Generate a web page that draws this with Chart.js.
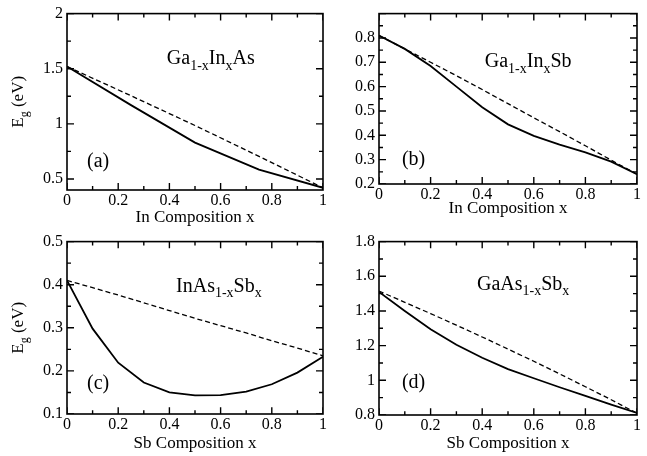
<!DOCTYPE html>
<html>
<head>
<meta charset="utf-8">
<script src="https://cdn.jsdelivr.net/npm/chart.js@4.4.1/dist/chart.umd.min.js"></script>
<style>
  html, body { margin: 0; padding: 0; background: #fff; }
  #wrap { position: relative; width: 647px; height: 456px; }
  canvas { position: absolute; }
</style>
</head>
<body>
<div id="wrap">
  <canvas id="panelA" width="330" height="228" style="left:0;top:0"></canvas>
  <canvas id="panelB" width="317" height="228" style="left:330px;top:0"></canvas>
  <canvas id="panelC" width="330" height="228" style="left:0;top:228px"></canvas>
  <canvas id="panelD" width="317" height="228" style="left:330px;top:228px"></canvas>
</div>
<script>
// ==========================================
// DATA
// ==========================================

const xQuarter = [0, 0.25, 0.5, 0.75, 1];
const xTenth = [0, 0.1, 0.2, 0.3, 0.4, 0.5, 0.6, 0.7, 0.8, 0.9, 1];

// (a) Ga1-xInxAs
const gaInAsCalc = [1.52, 1.17, 0.83, 0.585, 0.42];
const gaInAsLinear = [1.52, 1.255, 0.985, 0.705, 0.42];

// (b) Ga1-xInxSb
const gaInSbCalc = [0.81, 0.755, 0.685, 0.6, 0.515, 0.445, 0.398, 0.362, 0.33, 0.292, 0.24];
const gaInSbLinear = [0.81, 0.755, 0.7, 0.645, 0.588, 0.53, 0.472, 0.415, 0.357, 0.298, 0.24];

// (c) InAs1-xSbx
const inAsSbCalc = [0.41, 0.298, 0.219, 0.173, 0.15, 0.143, 0.144, 0.152, 0.169, 0.196, 0.233];
const inAsSbLinear = [0.41, 0.393, 0.376, 0.358, 0.34, 0.322, 0.305, 0.288, 0.27, 0.253, 0.235];

// (d) GaAs1-xSbx
const gaAsSbCalc = [1.51, 1.4, 1.295, 1.205, 1.13, 1.065, 1.012, 0.96, 0.91, 0.86, 0.812];
const gaAsSbLinear = [1.515, 1.45, 1.385, 1.318, 1.25, 1.18, 1.11, 1.037, 0.963, 0.888, 0.81];

// tick labels
const xTicks = [0, 0.2, 0.4, 0.6, 0.8, 1];
const yTicksA = [0.5, 1, 1.5, 2];
const yTicksB = [0.2, 0.3, 0.4, 0.5, 0.6, 0.7, 0.8];
const yTicksC = [0.1, 0.2, 0.3, 0.4, 0.5];
const yTicksD = [0.8, 1, 1.2, 1.4, 1.6, 1.8];

const SERIF = "'Liberation Serif', 'Times New Roman', serif";
const MAJOR_PX = 7;
const MINOR_PX = 4;

// ==========================================
// HELPERS
// ==========================================

function drawRich(ctx, parts, x, y, size) {
  let cx = x;
  parts.forEach(([txt, sub]) => {
    const fs = sub ? Math.round(size * 0.7) : size;
    ctx.font = fs + "px " + SERIF;
    ctx.fillText(txt, cx, sub ? y + size * 0.28 : y);
    cx += ctx.measureText(txt).width;
  });
}

function richWidth(ctx, parts, size) {
  let w = 0;
  parts.forEach(([txt, sub]) => {
    const fs = sub ? Math.round(size * 0.7) : size;
    ctx.font = fs + "px " + SERIF;
    w += ctx.measureText(txt).width;
  });
  return w;
}

function tickValues(min, max, step) {
  const out = [];
  const start = Math.ceil(min / step - 1e-6);
  const end = Math.floor(max / step + 1e-6);
  for (let i = start; i <= end; i++) out.push(i * step);
  return out;
}

function isMajor(v, step) {
  const r = v / step;
  return Math.abs(r - Math.round(r)) < 1e-6;
}

// inward tick marks as short segments, broken by gaps
// plotW / plotH: plot size in px, used to turn tick length into axis units
function tickSegments(d, yMin, yMax, plotW, plotH) {
  const pts = [];
  const ySpan = yMax - yMin;
  tickValues(0, 1, d.xMinor).forEach((v) => {
    const len = ((isMajor(v, d.xMajor) ? MAJOR_PX : MINOR_PX) / plotH) * ySpan;
    pts.push({ x: v, y: yMin }, { x: v, y: yMin + len }, { x: v, y: null });
    pts.push({ x: v, y: yMax }, { x: v, y: yMax - len }, { x: v, y: null });
  });
  tickValues(yMin, yMax, d.yMinor).forEach((v) => {
    const len = (isMajor(v, d.yMajor) ? MAJOR_PX : MINOR_PX) / plotW;
    pts.push({ x: 0, y: v }, { x: len, y: v }, { x: 0, y: null });
    pts.push({ x: 1, y: v }, { x: 1 - len, y: v }, { x: 1, y: null });
  });
  return pts;
}

// frame + annotations
function makeFramePlugin(d) {
  return {
    id: "frameText",
    afterDraw(chart) {
      const { ctx, chartArea: a, scales } = chart;
      const x = scales.x, y = scales.y;
      ctx.save();
      ctx.fillStyle = "#000";
      ctx.strokeStyle = "#000";
      ctx.lineWidth = 1.6;
      ctx.strokeRect(a.left, a.top, a.right - a.left, a.bottom - a.top);

      ctx.textBaseline = "alphabetic";
      ctx.textAlign = "left";
      drawRich(ctx, d.name, x.getPixelForValue(d.namePos[0]), y.getPixelForValue(d.namePos[1]), 20);

      ctx.font = "20px " + SERIF;
      ctx.fillText(d.tag, x.getPixelForValue(d.tagPos[0]), y.getPixelForValue(d.tagPos[1]));

      if (d.yTitleX) {
        const parts = [["E", false], ["g", true], [" (eV)", false]];
        const tw = richWidth(ctx, parts, 17);
        ctx.translate(d.yTitleX, (a.top + a.bottom) / 2);
        ctx.rotate(-Math.PI / 2);
        drawRich(ctx, parts, -tw / 2, 6, 17);
      }
      ctx.restore();
    },
  };
}

// ==========================================
// CHART FUNCTIONS
// ==========================================

function toPoints(xs, ys) {
  return xs.map((x, i) => ({ x: x, y: ys[i] }));
}

function makePanel(id, canvasW, canvasH, p) {
  const font = { family: SERIF, size: 16 };
  const plotW = canvasW - p.yWidth - p.padRight;
  const plotH = canvasH - p.padTop - p.xHeight;

  new Chart(document.getElementById(id).getContext("2d"), {
    type: "scatter",
    data: {
      datasets: [
        {
          data: toPoints(p.xs, p.calc),
          showLine: true,
          borderColor: "#000",
          borderWidth: 1.8,
          pointRadius: 0,
        },
        {
          data: toPoints(p.xs, p.linear),
          showLine: true,
          borderColor: "#000",
          borderWidth: 1.3,
          borderDash: [5, 3],
          pointRadius: 0,
        },
        {
          // axis tick marks
          data: tickSegments(p.deco, p.yMin, p.yMax, plotW, plotH),
          showLine: true,
          spanGaps: false,
          borderColor: "#000",
          borderWidth: 1.4,
          pointRadius: 0,
        },
      ],
    },
    options: {
      responsive: false,
      animation: false,
      events: [],
      layout: { padding: { top: p.padTop, right: p.padRight, left: 0, bottom: 0 } },
      plugins: {
        legend: { display: false },
        tooltip: { enabled: false },
      },
      scales: {
        x: {
          type: "linear",
          min: 0,
          max: 1,
          grid: { display: false, drawTicks: false },
          border: { display: false },
          afterBuildTicks: (s) => { s.ticks = xTicks.map((v) => ({ value: v })); },
          afterFit: (s) => { s.height = p.xHeight; },
          ticks: {
            font: font, color: "#000", padding: 1, maxRotation: 0, autoSkip: false,
            callback: (v) => String(v),
          },
          title: {
            display: true,
            text: p.xTitle,
            font: { family: SERIF, size: 17 },
            color: "#000",
            padding: { top: 0, bottom: p.titlePad },
          },
        },
        y: {
          type: "linear",
          min: p.yMin,
          max: p.yMax,
          grid: { display: false, drawTicks: false },
          border: { display: false },
          afterBuildTicks: (s) => { s.ticks = p.yTicks.map((v) => ({ value: v })); },
          afterFit: (s) => { s.width = p.yWidth; },
          ticks: {
            font: font, color: "#000", padding: 4, autoSkip: false,
            callback: (v) => String(v),
          },
        },
      },
    },
    plugins: [makeFramePlugin(p.deco)],
  });
}

// ==========================================
// INITIALIZATION
// ==========================================

makePanel("panelA", 330, 228, {
  xs: xQuarter, calc: gaInAsCalc, linear: gaInAsLinear,
  yMin: 0.4, yMax: 2, yTicks: yTicksA,
  padTop: 12, padRight: 7, yWidth: 67, xHeight: 38, titlePad: 0,
  xTitle: "In Composition x",
  deco: {
    xMinor: 0.1, xMajor: 0.2, yMinor: 0.25, yMajor: 0.5,
    name: [["Ga", false], ["1-x", true], ["In", false], ["x", true], ["As", false]],
    namePos: [0.39, 1.54], tag: "(a)", tagPos: [0.078, 0.607], yTitleX: 17,
  },
});

makePanel("panelB", 317, 228, {
  xs: xTenth, calc: gaInSbCalc, linear: gaInSbLinear,
  yMin: 0.2, yMax: 0.9, yTicks: yTicksB,
  padTop: 13, padRight: 10, yWidth: 49, xHeight: 44, titlePad: 9,
  xTitle: "In Composition x",
  deco: {
    xMinor: 0.1, xMajor: 0.2, yMinor: 0.05, yMajor: 0.1,
    name: [["Ga", false], ["1-x", true], ["In", false], ["x", true], ["Sb", false]],
    namePos: [0.41, 0.679], tag: "(b)", tagPos: [0.089, 0.278],
  },
});

makePanel("panelC", 330, 228, {
  xs: xTenth, calc: inAsSbCalc, linear: inAsSbLinear,
  yMin: 0.1, yMax: 0.5, yTicks: yTicksC,
  padTop: 7, padRight: 7, yWidth: 67, xHeight: 42, titlePad: 2,
  xTitle: "Sb Composition x",
  deco: {
    xMinor: 0.1, xMajor: 0.2, yMinor: 0.05, yMajor: 0.1,
    name: [["InAs", false], ["1-x", true], ["Sb", false], ["x", true]],
    namePos: [0.426, 0.384], tag: "(c)", tagPos: [0.078, 0.158], yTitleX: 17,
  },
});

makePanel("panelD", 317, 228, {
  xs: xTenth, calc: gaAsSbCalc, linear: gaAsSbLinear,
  yMin: 0.8, yMax: 1.8, yTicks: yTicksD,
  padTop: 7, padRight: 10, yWidth: 49, xHeight: 41, titlePad: 2,
  xTitle: "Sb Composition x",
  deco: {
    xMinor: 0.1, xMajor: 0.2, yMinor: 0.1, yMajor: 0.2,
    name: [["GaAs", false], ["1-x", true], ["Sb", false], ["x", true]],
    namePos: [0.38, 1.522], tag: "(d)", tagPos: [0.089, 0.956],
  },
});
</script>
</body>
</html>
